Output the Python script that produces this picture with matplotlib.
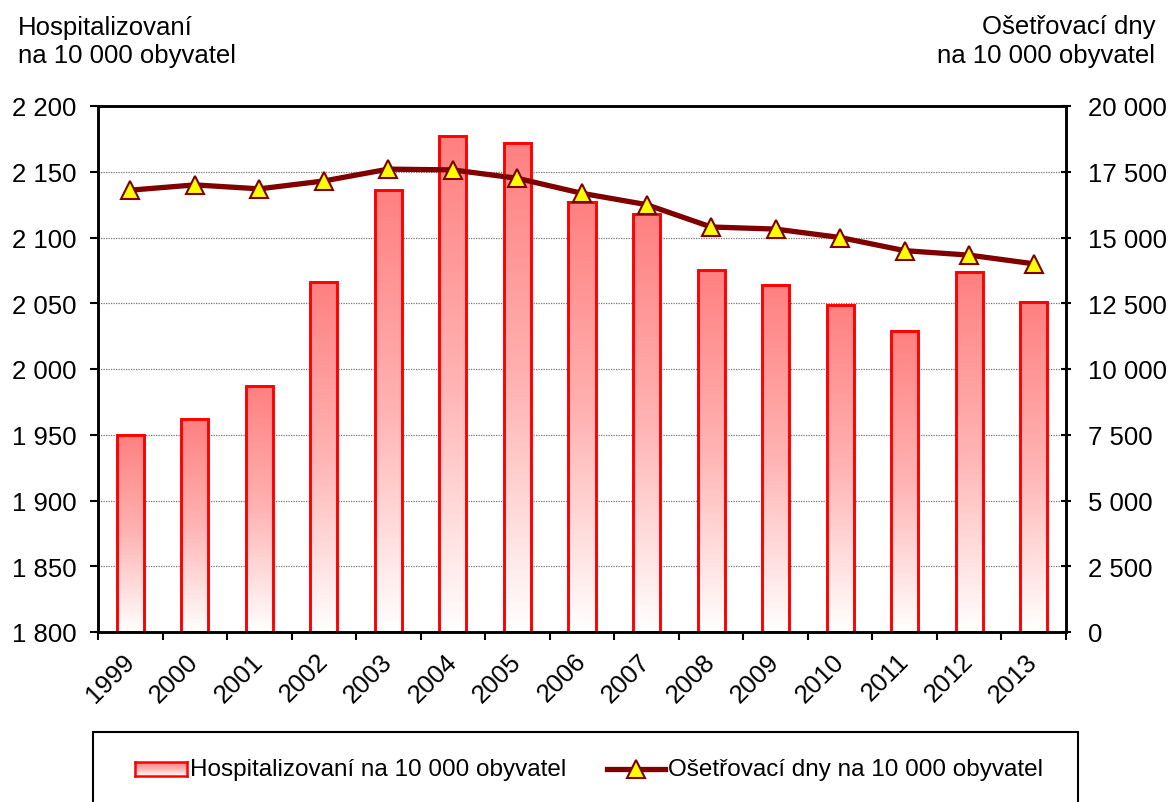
import matplotlib
matplotlib.use("Agg")
import matplotlib.pyplot as plt
import matplotlib.transforms as mtrans
import numpy as np
from matplotlib.colors import LinearSegmentedColormap
from matplotlib.lines import Line2D
from matplotlib.patches import Rectangle
from matplotlib.ticker import FuncFormatter, MultipleLocator

plt.rcParams['font.family'] = ['Liberation Sans', 'DejaVu Sans']

years = ['1999', '2000', '2001', '2002', '2003', '2004', '2005', '2006',
         '2007', '2008', '2009', '2010', '2011', '2012', '2013']
hospitalizovani = [1950, 1962, 1987, 2066, 2136, 2177, 2172, 2127,
                   2118, 2075, 2064, 2049, 2029, 2074, 2051]
osetrovaci_dny = [16800, 17000, 16850, 17150, 17600, 17570, 17250, 16680,
                  16250, 15400, 15320, 15000, 14500, 14330, 14000]

label_bar = 'Hospitalizovaní na 10 000 obyvatel'
label_line = 'Ošetřovací dny na 10 000 obyvatel'
title_left = ['Hospitalizovaní', 'na 10 000 obyvatel']
title_right = ['Ošetřovací dny', 'na 10 000 obyvatel']

W, H = 1174, 803
fig = plt.figure(figsize=(W / 100, H / 100), dpi=100)

def fx(px):
    return px / W

def fy(py):
    return 1 - py / H

ax = fig.add_axes([fx(98), fy(633), fx(1066) - fx(98), fy(107) - fy(633)])
FS = 18.5
FS_LEG = 17.5

cmap = LinearSegmentedColormap.from_list('grad', ['#FFFFFF', '#FFB3B3', '#FF8080'])
grad = np.linspace(0, 1, 256).reshape(-1, 1)

x = np.arange(len(years))
bw = 0.42
ymin, ymax = 1800, 2200
for xi, v in zip(x, hospitalizovani):
    ax.imshow(grad, cmap=cmap, origin='lower', aspect='auto',
              extent=[xi - bw / 2, xi + bw / 2, ymin, v], zorder=1.5,
              interpolation='bilinear')
ax.bar(x, [v - ymin for v in hospitalizovani], bottom=ymin, width=bw,
       facecolor='none', edgecolor='#FF0000', linewidth=2.1, zorder=2)

ax.set_xlim(-0.5, len(years) - 0.5)
ax.set_ylim(ymin, ymax)
ax.yaxis.set_major_locator(MultipleLocator(50))
fmt = FuncFormatter(lambda v, p: f'{int(round(v)):,}'.replace(',', ' '))
ax.yaxis.set_major_formatter(fmt)
ax.set_xticks(np.arange(-0.5, len(years), 1.0), minor=False)
ax.set_xticklabels([])
ax.set_xticks(x, minor=True)
ax.set_xticklabels(years, minor=True, rotation=45, ha='right', va='center',
                   rotation_mode='anchor', fontsize=FS)
shift = mtrans.ScaledTranslation(-0.05, -0.05, fig.dpi_scale_trans)
for lbl in ax.get_xticklabels(minor=True):
    lbl.set_transform(lbl.get_transform() + shift)
ax.tick_params(axis='x', which='minor', length=0, pad=18)
ax.tick_params(axis='x', which='major', length=6, width=1.5, direction='out')
ax.tick_params(axis='y', length=5.5, width=1.5, direction='out', labelsize=FS, pad=10)
ax.set_axisbelow(True)
ax.yaxis.grid(True, color='#777777', linestyle=(0, (1, 1)), linewidth=0.9, zorder=0)
for s in ax.spines.values():
    s.set_linewidth(1.8)
    s.set_color('black')

ax2 = ax.twinx()
ax2.plot(x, osetrovaci_dny, color='#800000', linewidth=3.8, marker='^',
         markersize=12.5, markerfacecolor='#FFFF00', markeredgecolor='#800000',
         markeredgewidth=1.5, zorder=3)
ax2.set_ylim(0, 20000)
ax2.yaxis.set_major_locator(MultipleLocator(2500))
ax2.yaxis.set_major_formatter(fmt)
ax2.tick_params(axis='y', length=7, width=1.5, direction='inout', labelsize=FS, pad=12)
for s in ax2.spines.values():
    s.set_linewidth(1.8)
    s.set_color('black')

fig.text(fx(18), fy(35), title_left[0], ha='left', va='baseline', fontsize=FS)
fig.text(fx(18), fy(63), title_left[1], ha='left', va='baseline', fontsize=FS)
fig.text(fx(1155), fy(34), title_right[0], ha='right', va='baseline', fontsize=FS)
fig.text(fx(1155), fy(63), title_right[1], ha='right', va='baseline', fontsize=FS)

# legend
fig.add_artist(Rectangle((fx(93), fy(815)), fx(1078) - fx(93), fy(733) - fy(815),
                         transform=fig.transFigure, facecolor='white',
                         edgecolor='black', linewidth=1.5, clip_on=False, zorder=1))
lax = fig.add_axes([fx(135), fy(777), fx(187) - fx(135), fy(763) - fy(777)])
lax.set_zorder(5)
lax.imshow(grad, cmap=cmap, origin='lower', aspect='auto', extent=[0, 1, 0, 1])
lax.set_xticks([]); lax.set_yticks([])
for s in lax.spines.values():
    s.set_color('#FF0000'); s.set_linewidth(1.8)
fig.text(fx(190), fy(770), label_bar, ha='left', va='center', fontsize=FS_LEG, zorder=6)
fig.add_artist(Line2D([fx(607), fx(665)], [fy(770), fy(770)],
                      transform=fig.transFigure, color='#800000', linewidth=3.8, zorder=6))
fig.add_artist(Line2D([fx(636)], [fy(770)], transform=fig.transFigure,
                      marker='^', markersize=12.5, markerfacecolor='#FFFF00',
                      markeredgecolor='#800000', markeredgewidth=1.5, linestyle='none',
                      zorder=7))
fig.text(fx(668), fy(770), label_line, ha='left', va='center', fontsize=FS_LEG, zorder=6)

fig.savefig('out.png', dpi=100)
